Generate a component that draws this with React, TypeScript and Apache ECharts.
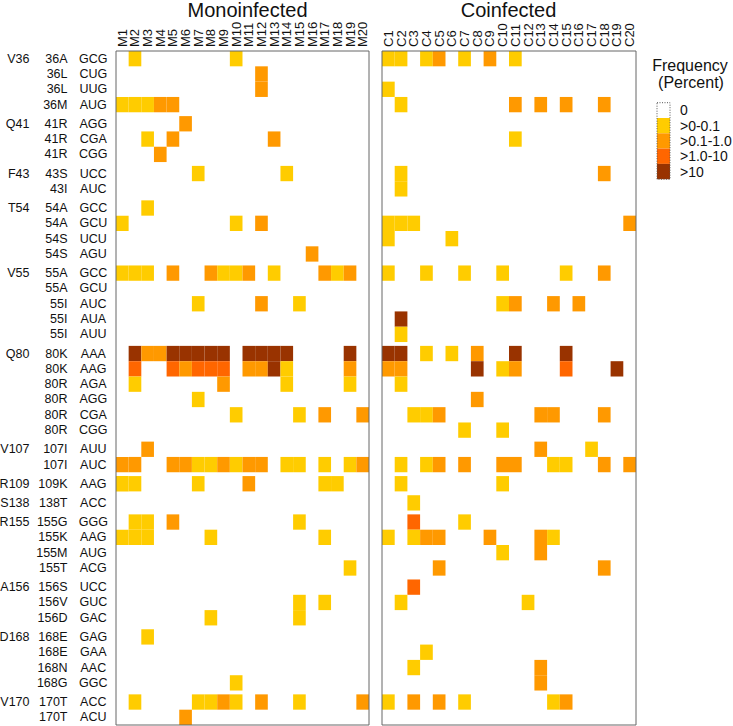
import React, { useEffect, useRef } from "react";
import * as echarts from "echarts";

const monoColumns = ["M1","M2","M3","M4","M5","M6","M7","M8","M9","M10","M11","M12","M13","M14","M15","M16","M17","M18","M19","M20"];
const coColumns = ["C1","C2","C3","C4","C5","C6","C7","C8","C9","C10","C11","C12","C13","C14","C15","C16","C17","C18","C19","C20"];

const rowSites = ["V36","","","","Q41","","","F43","","T54","","","","V55","","","","","Q80","","","","","","V107","","R109","S138","R155","","","","A156","","","D168","","","","V170",""];
const rowMutations = ["36A","36L","36L","36M","41R","41R","41R","43S","43I","54A","54A","54S","54S","55A","55A","55I","55I","55I","80K","80K","80R","80R","80R","80R","107I","107I","109K","138T","155G","155K","155M","155T","156S","156V","156D","168E","168E","168N","168G","170T","170T"];
const rowCodons = ["GCG","CUG","UUG","AUG","AGG","CGA","CGG","UCC","AUC","GCC","GCU","UCU","AGU","GCC","GCU","AUC","AUA","AUU","AAA","AAG","AGA","AGG","CGA","CGG","AUU","AUC","AAG","ACC","GGG","AAG","AUG","ACG","UCC","GUC","GAC","GAG","GAA","AAC","GGC","ACC","ACU"];

// frequency class per cell: 0 = 0, 1 = >0-0.1, 2 = >0.1-1.0, 3 = >1.0-10, 4 = >10
const monoLevels = [
  "01000000010000000000",
  "00000000000200000000",
  "00000000000200000000",
  "11122000000000000000",
  "00000200000000000000",
  "00102000000020000000",
  "00020000000000000000",
  "00000010000001000000",
  "00000000000000000000",
  "00100000000000000000",
  "10000000010200000000",
  "00000000000000000000",
  "00000000000000020000",
  "11102002112010002120",
  "00000000000000000000",
  "00000010000200100000",
  "00000000000000000000",
  "00000000000000000000",
  "04224444404444000040",
  "03003233302241000020",
  "01000000200001000010",
  "00000010000000000000",
  "00000000010000102002",
  "00000000000000000000",
  "00200000000000000000",
  "22002211212201101012",
  "11000010002000001100",
  "00000000000000000000",
  "01102000000000100000",
  "11100001000000001000",
  "00000000000000000000",
  "00000000000000000010",
  "00000000000000000000",
  "00000000000000101000",
  "00000001000000100000",
  "00100000000000000000",
  "00000000000000000000",
  "00000000000000000000",
  "00000000010000000000",
  "01000011210200100002",
  "00000200000000000000",
];

const coLevels = [
  "11012010201000000000",
  "00000000000000000000",
  "10000000000000000000",
  "01000000002020200200",
  "00000000000000000000",
  "00000000001000000000",
  "00000000000000000000",
  "01000000000000000200",
  "01000000000000000000",
  "00000000000000000000",
  "11100000000000000002",
  "10000100000000000000",
  "00000000000000000000",
  "10010010010000100200",
  "00000000000000000000",
  "00000000012002020000",
  "04000000000000000000",
  "01000000000000000000",
  "44010102004000400000",
  "22000004012000300040",
  "01000000000000000000",
  "00000002000000000000",
  "00112000000022000200",
  "00000010010000000000",
  "00000000000020001000",
  "01012020022001100202",
  "01000000010000000000",
  "00100000000000000000",
  "00300010000000000000",
  "10122000200021000000",
  "00000000010020000000",
  "00002000000000000200",
  "00300000000000000000",
  "01000000000100000000",
  "00000000000000000000",
  "00000000000000000000",
  "00010000000000000000",
  "00100000000020000000",
  "00000000000020000000",
  "10202010000001200000",
  "00000000000000000000",
];

const legendLabels = ["0", ">0-0.1", ">0.1-1.0", ">1.0-10", ">10"];
const levelColors = ["#FFFFFF", "#FFCC00", "#FF9900", "#FF6600", "#993300"];

const FONT = "Liberation Sans, Arial, Helvetica, sans-serif";
const GAP = 0.25;

export default function App() {
  const ref = useRef<HTMLDivElement>(null);

  useEffect(() => {
    if (!ref.current) return;
    const chart = echarts.init(ref.current, undefined, { renderer: "svg" });

    const rowGroup: number[] = [];
    let g = -1;
    rowSites.forEach((s) => {
      if (s) g++;
      rowGroup.push(g);
    });
    const rowY = rowGroup.map((gi, r) => r + GAP * gi);
    const yMax = rowMutations.length + GAP * g;

    const cells = (levels: string[]) => {
      const out: number[][] = [];
      levels.forEach((s, r) =>
        s.split("").forEach((ch, c) => {
          const v = Number(ch);
          if (v > 0) out.push([c, rowY[r], v]);
        })
      );
      return out;
    };

    const cellRender = (params: any, api: any) => {
      const c = api.value(0);
      const y = api.value(1);
      const lv = api.value(2);
      const p = api.coord([c, y]);
      const size = api.size([1, 1]);
      return {
        type: "rect",
        shape: { x: p[0] - size[0] / 2, y: p[1], width: size[0], height: size[1] },
        style: { fill: levelColors[lv] },
      };
    };

    const labelRender = (params: any, api: any) => {
      const r = api.value(2);
      const p = api.coord([0, api.value(1) + 0.5]);
      const w = api.size([1, 0])[0];
      const left = p[0] - w / 2;
      const mk = (text: string, x: number, align: string) => ({
        type: "text",
        x,
        y: p[1],
        style: {
          text,
          font: `12.5px ${FONT}`,
          fill: "#111",
          align,
          textAlign: align,
          verticalAlign: "middle",
          textVerticalAlign: "middle",
        },
      });
      return {
        type: "group",
        children: [
          mk(rowSites[r], left - 86.5, "right"),
          mk(rowMutations[r], left - 48.5, "right"),
          mk(rowCodons[r], left - 22.7, "center"),
        ],
      };
    };

    const xAxisCommon = {
      type: "category",
      position: "top",
      axisLine: { show: false },
      axisTick: { show: false },
      splitLine: { show: false },
      axisLabel: { rotate: 90, interval: 0, margin: 4, fontSize: 13, fontFamily: FONT, color: "#111" },
    };
    const yAxisCommon = { type: "value", min: 0, max: yMax, inverse: true, show: false };

    const txt = (text: string, x: number, y: number, size: number, align = "center") => ({
      type: "text",
      x,
      y,
      style: {
        text,
        font: `${size}px ${FONT}`,
        fill: "#111",
        align,
        textAlign: align,
        verticalAlign: "middle",
        textVerticalAlign: "middle",
      },
    });

    const legendTop = 102.7;
    const legendH = 15.3;
    const legendEls: any[] = [];
    legendLabels.forEach((lab, i) => {
      legendEls.push({
        type: "rect",
        shape: { x: 657, y: legendTop + i * legendH, width: 13, height: legendH },
        style: { fill: levelColors[i] },
      });
      legendEls.push(txt(lab, 680, legendTop + i * legendH + legendH / 2, 14, "left"));
    });
    legendEls.push({
      type: "rect",
      shape: { x: 657, y: legendTop, width: 13, height: legendH * legendLabels.length },
      style: { fill: "none", stroke: "#555", lineWidth: 1, lineDash: [1, 1.5] },
    });

    chart.setOption({
      animation: false,
      backgroundColor: "#fff",
      grid: [
        { left: 116, top: 51, width: 253, height: 674, show: true, borderColor: "#666", borderWidth: 1, backgroundColor: "transparent", z: 10 },
        { left: 382, top: 51, width: 254, height: 674, show: true, borderColor: "#666", borderWidth: 1, backgroundColor: "transparent", z: 10 },
      ],
      xAxis: [
        { ...xAxisCommon, gridIndex: 0, data: monoColumns },
        { ...xAxisCommon, gridIndex: 1, data: coColumns },
      ],
      yAxis: [
        { ...yAxisCommon, gridIndex: 0 },
        { ...yAxisCommon, gridIndex: 1 },
      ],
      graphic: [
        txt("Monoinfected", 247.5, 9.5, 20),
        txt("Coinfected", 508.5, 9.5, 20),
        txt("Frequency", 690, 65, 16),
        txt("(Percent)", 691, 82, 16),
        ...legendEls,
      ],
      series: [
        {
          type: "custom",
          name: "Monoinfected",
          xAxisIndex: 0,
          yAxisIndex: 0,
          data: cells(monoLevels),
          renderItem: cellRender,
          silent: true,
        },
        {
          type: "custom",
          name: "Coinfected",
          xAxisIndex: 1,
          yAxisIndex: 1,
          data: cells(coLevels),
          renderItem: cellRender,
          silent: true,
        },
        {
          type: "custom",
          name: "rowLabels",
          xAxisIndex: 0,
          yAxisIndex: 0,
          clip: false,
          data: rowY.map((y, r) => [0, y, r]),
          renderItem: labelRender,
          silent: true,
        },
      ],
    });

    return () => chart.dispose();
  }, []);

  return (
    <div
      ref={ref}
      style={{ position: "fixed", left: 0, top: 0, width: 733, height: 726, background: "#fff" }}
    />
  );
}
